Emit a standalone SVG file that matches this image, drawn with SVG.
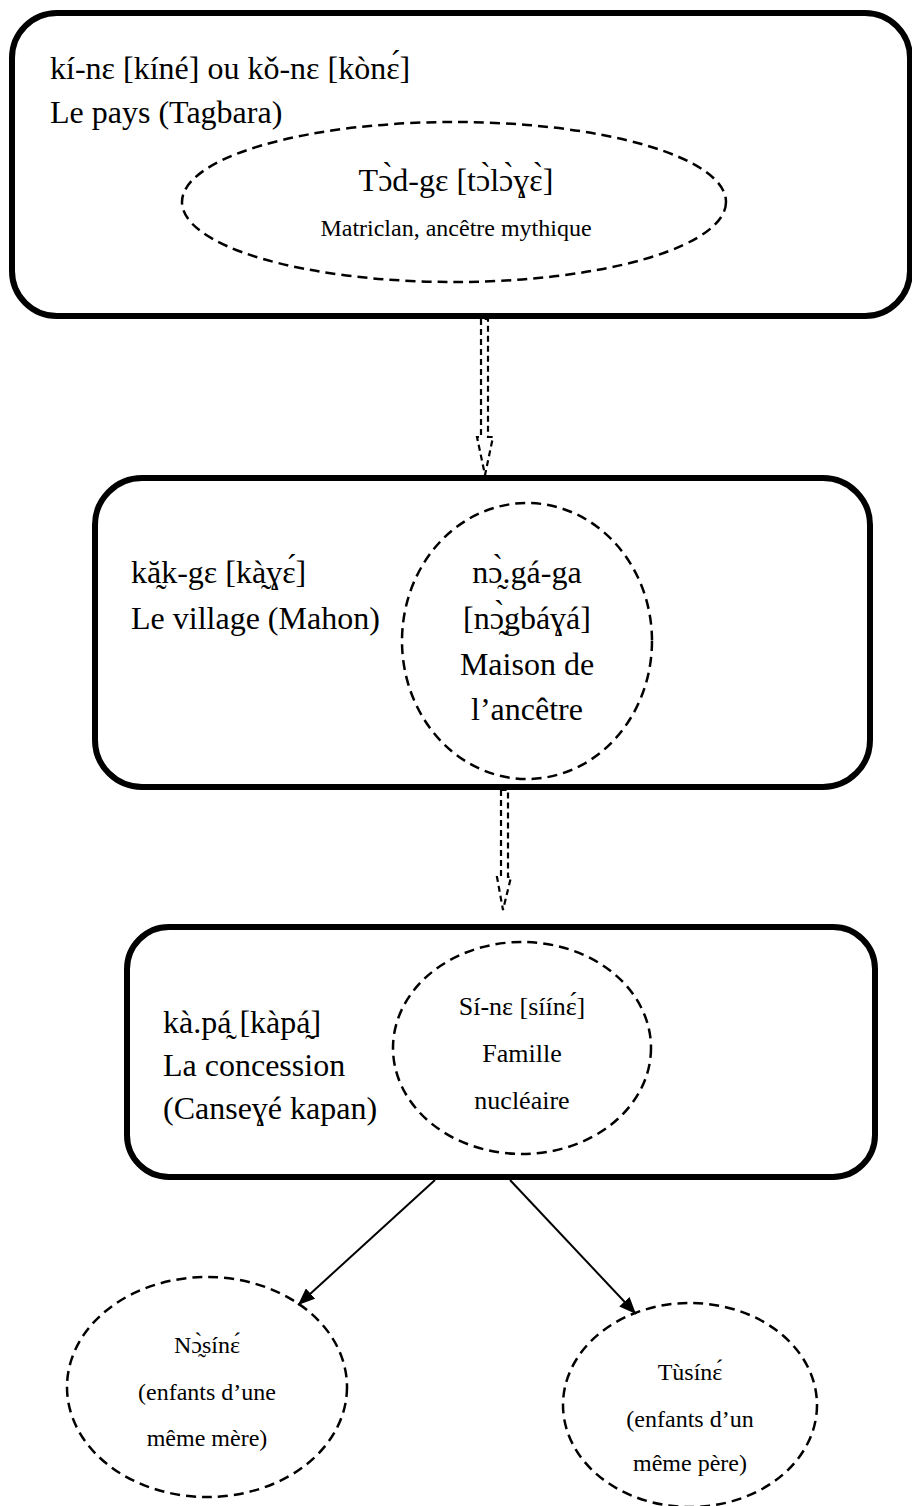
<svg xmlns="http://www.w3.org/2000/svg" width="912" height="1506" viewBox="0 0 912 1506">
<style>
text{font-family:"Liberation Serif","DejaVu Serif","Noto Sans",serif;fill:#000}
.t32{font-size:32px}
.t26{font-size:26px}
.t24{font-size:24px}
.box{fill:#fff;stroke:#000;stroke-width:6}
.dash{fill:none;stroke:#000;stroke-width:2.5;stroke-dasharray:10 6}
.harrow{fill:none;stroke:#000;stroke-width:2.2;stroke-dasharray:6 4}
.link{fill:none;stroke:#000;stroke-width:2}
.c{text-anchor:middle}
</style>
<defs>
<marker id="ah" markerUnits="userSpaceOnUse" markerWidth="18" markerHeight="14" refX="17" refY="7" orient="auto">
<path d="M0,0 L17,7 L0,14 Z" fill="#000"/>
</marker>
</defs>
<rect width="912" height="1506" fill="#fff"/>

<g id="pays">
<rect class="box" x="12" y="13" width="898" height="303" rx="45"/>
<text class="t32" x="50" y="79">kí-nɛ [kíné] ou kǒ-nɛ [kònɛ́]</text>
<text class="t32" x="50" y="123">Le pays (Tagbara)</text>
</g>
<g id="matriclan">
<ellipse class="dash" cx="454" cy="202" rx="272" ry="80"/>
<text class="t32 c" x="456" y="191">Tɔ̀d-gɛ [tɔ̀lɔ̀ɣɛ̀]</text>
<text class="t24 c" x="456" y="236">Matriclan, ancêtre mythique</text>
</g>

<g id="village">
<rect class="box" x="95" y="478" width="775" height="309" rx="47"/>
<text class="t32" x="131" y="583">kă̰k-gɛ [kà̰ɣɛ́]</text>
<text class="t32" x="131" y="629">Le village (Mahon)</text>
</g>
<g id="maison-ancetre">
<ellipse class="dash" cx="527" cy="641" rx="125" ry="138"/>
<text class="t32 c" x="527" y="583">nɔ̰̀.gá-ga</text>
<text class="t32 c" x="527" y="629">[nɔ̰̀gbáɣá]</text>
<text class="t32 c" x="527" y="675">Maison de</text>
<text class="t32 c" x="527" y="720">l’ancêtre</text>
</g>

<g id="concession">
<rect class="box" x="127" y="927" width="748" height="250" rx="42"/>
<text class="t32" x="163" y="1033">kà.pá̰ [kàpá̰]</text>
<text class="t32" x="163" y="1076">La concession</text>
<text class="t32" x="163" y="1119">(Canseɣé kapan)</text>
</g>
<g id="famille-nucleaire">
<ellipse class="dash" cx="522" cy="1048" rx="129" ry="106"/>
<text class="t26 c" x="522" y="1015">Sí-nɛ [síínɛ́]</text>
<text class="t26 c" x="522" y="1062">Famille</text>
<text class="t26 c" x="522" y="1109">nucléaire</text>
</g>

<g id="nosine">
<ellipse class="dash" cx="207" cy="1387" rx="140" ry="110"/>
<text class="t24 c" x="207" y="1353">Nɔ̰̀sínɛ́</text>
<text class="t24 c" x="207" y="1400">(enfants d’une</text>
<text class="t24 c" x="207" y="1446">même mère)</text>
</g>

<g id="tusine">
<ellipse class="dash" cx="690" cy="1405" rx="127" ry="102"/>
<text class="t24 c" x="690" y="1380">Tùsínɛ́</text>
<text class="t24 c" x="690" y="1427">(enfants d’un</text>
<text class="t24 c" x="690" y="1471">même père)</text>
</g>

<g id="connectors">
<path class="harrow" d="M481,319 V437 H477 L485,475 L493,437 H488 V319 Z"/>
<path class="harrow" d="M501,790 V877 H497 L503,910 L511,877 H508 V790 Z"/>
<line class="link" x1="435" y1="1180" x2="298" y2="1305" marker-end="url(#ah)"/>
<line class="link" x1="510" y1="1180" x2="636" y2="1314" marker-end="url(#ah)"/>
</g>
</svg>
